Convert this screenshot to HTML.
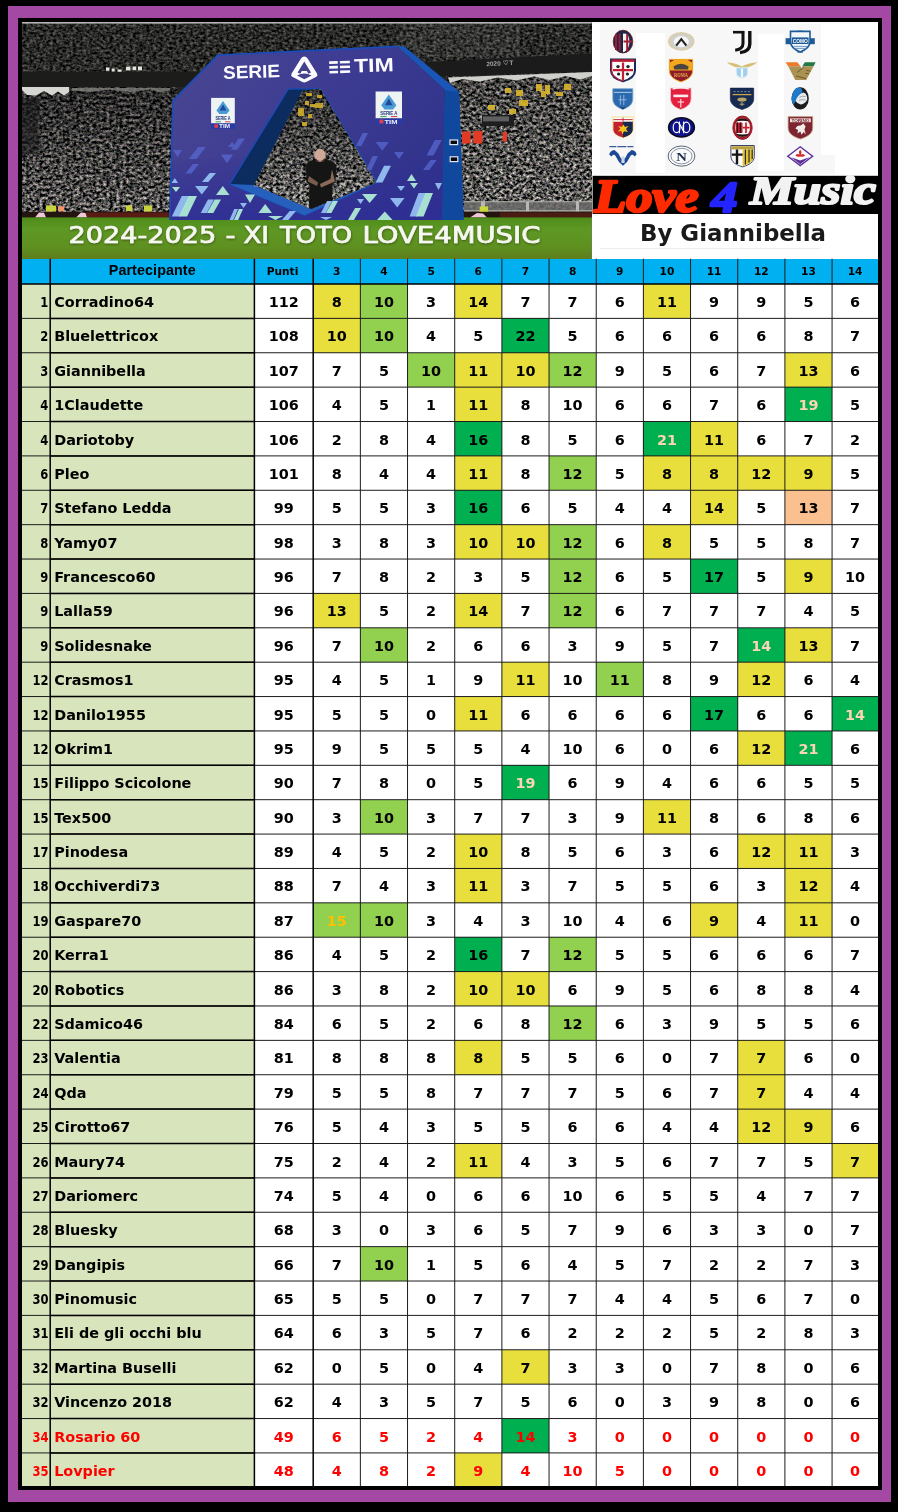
<!DOCTYPE html>
<html lang="it">
<head>
<meta charset="utf-8">
<title>2024-2025 - XI TOTO LOVE4MUSIC</title>
<style>
html,body{margin:0;padding:0;background:#000;}
body{width:898px;height:1512px;overflow:hidden;}
#page{position:relative;width:898px;height:1512px;background:#000;overflow:hidden;font-family:"DejaVu Sans","Liberation Sans",sans-serif;}
#frame1{position:absolute;left:8px;top:6px;width:883px;height:1496px;background:#A349A4;}
#frame2{position:absolute;left:18px;top:18px;width:864px;height:1472px;background:#000;}
#content{position:absolute;left:22px;top:22px;width:856px;height:1464px;background:#fff;}
#tbl{position:absolute;left:0;top:0;width:898px;height:1512px;}
.hrow,.row{position:absolute;left:0;width:898px;}
.hrow{background:transparent;}
.hc{position:absolute;top:0;height:100%;background:#00B0F0;color:#000;font-weight:bold;font-family:"DejaVu Sans","Liberation Sans",sans-serif;font-size:10.6px;text-align:center;line-height:25px;white-space:nowrap;}
.hc.hp{font-family:"Liberation Sans",sans-serif;font-size:14.3px;letter-spacing:0.1px;line-height:23px;}
.c{position:absolute;top:0;height:100%;background:#fff;color:#000;font-weight:bold;font-size:14.4px;text-align:center;line-height:36px;white-space:nowrap;}
.c.rk,.c.nm{background:#D8E4BC;}
.c.rk{text-align:right;font-family:"DejaVu Sans Condensed","DejaVu Sans",sans-serif;font-size:14.6px;}
.c.rk span{display:inline-block;padding-right:1.8px;transform:scaleX(0.88);transform-origin:100% 50%;}
.c.nm{text-align:left;}
.c.nm span{padding-left:4px;}
.red .c{color:#FF0000;}
.hc.hq{text-indent:-2.5px;}

</style>
</head>
<body>
<div id="page">
<div id="frame1"></div>
<div id="frame2"></div>
<div id="content"></div>

<svg id="hdr" width="898" height="262" viewBox="0 0 898 262" style="position:absolute;left:0;top:0">
<defs>
<filter id="crowdA" x="0" y="0" width="100%" height="100%" color-interpolation-filters="sRGB">
<feTurbulence type="fractalNoise" baseFrequency="0.3 0.36" numOctaves="3" seed="7" result="n"/>
<feColorMatrix in="n" type="matrix" values="2.10 0 0 0 -0.670  1.91 0.17 0 0 -0.663  1.89 0 0.16 0 -0.657  0 0 0 0 1"/>
<feGaussianBlur stdDeviation="0.6"/>
</filter>
<filter id="crowdB" x="0" y="0" width="100%" height="100%" color-interpolation-filters="sRGB">
<feTurbulence type="fractalNoise" baseFrequency="0.3 0.4" numOctaves="3" seed="3" result="n"/>
<feColorMatrix in="n" type="matrix" values="0.70 0 0 0 -0.185  0.64 0.06 0 0 -0.183  0.62 0 0.05 0 -0.178  0 0 0 0 1"/>
<feGaussianBlur stdDeviation="0.6"/>
</filter>
<filter id="crowdC" x="0" y="0" width="100%" height="100%" color-interpolation-filters="sRGB">
<feTurbulence type="fractalNoise" baseFrequency="0.3 0.36" numOctaves="3" seed="11" result="n"/>
<feColorMatrix in="n" type="matrix" values="1.90 0 0 0 -0.600  1.73 0.15 0 0 -0.594  1.71 0 0.15 0 -0.588  0 0 0 0 1"/>
<feGaussianBlur stdDeviation="0.6"/>
</filter>
<filter id="grassN" x="0" y="0" width="100%" height="100%" color-interpolation-filters="sRGB">
<feTurbulence type="fractalNoise" baseFrequency="0.08 0.5" numOctaves="2" seed="5" result="n"/>
<feColorMatrix in="n" type="matrix" values="0 0 0 0 0.1  0 0 0 0 0.25  0 0 0 0 0  0 1.2 0 0 -0.45"/>
</filter>
<linearGradient id="shL" x1="0" y1="0" x2="0" y2="1">
<stop offset="0" stop-color="#000" stop-opacity="0.55"/><stop offset="0.5" stop-color="#000" stop-opacity="0.3"/><stop offset="1" stop-color="#000" stop-opacity="0.1"/>
</linearGradient>
<linearGradient id="shR" x1="0" y1="0" x2="0" y2="1">
<stop offset="0" stop-color="#000" stop-opacity="0.35"/><stop offset="0.4" stop-color="#000" stop-opacity="0.2"/><stop offset="1" stop-color="#000" stop-opacity="0.05"/>
</linearGradient>
<linearGradient id="lowL" x1="0" y1="0" x2="0" y2="1">
<stop offset="0" stop-color="#262422"/><stop offset="0.5" stop-color="#36322f"/><stop offset="1" stop-color="#4a4644"/>
</linearGradient>
<linearGradient id="lowR" x1="0" y1="0" x2="0" y2="1">
<stop offset="0" stop-color="#3a3833"/><stop offset="0.5" stop-color="#403c3a"/><stop offset="1" stop-color="#4c4848"/>
</linearGradient>
<linearGradient id="grass" x1="0" y1="0" x2="0" y2="1">
<stop offset="0" stop-color="#4e8c1a"/><stop offset="0.3" stop-color="#5e9824"/><stop offset="0.7" stop-color="#5e9020"/><stop offset="1" stop-color="#5e7c1c"/>
</linearGradient>
<filter id="crowdH" x="0" y="0" width="100%" height="100%" color-interpolation-filters="sRGB">
<feTurbulence type="fractalNoise" baseFrequency="0.3 0.36" numOctaves="3" seed="21" result="n"/>
<feColorMatrix in="n" type="matrix" values="2.40 0 0 0 -0.740  2.19 0.19 0 0 -0.733  2.16 0 0.19 0 -0.725  0 0 0 0 1"/>
<feGaussianBlur stdDeviation="0.6"/>
</filter>
<filter id="ts" x="-5%" y="-30%" width="110%" height="170%">
<feDropShadow dx="0.4" dy="1" stdDeviation="1.1" flood-color="#1a2a00" flood-opacity="0.55"/>
</filter>
<linearGradient id="archLow" x1="0" y1="0" x2="0" y2="1">
<stop offset="0" stop-color="#2e2e92" stop-opacity="0"/><stop offset="1" stop-color="#2e2e96" stop-opacity="0.85"/>
</linearGradient>
<linearGradient id="shH" x1="0" y1="0" x2="0" y2="1">
<stop offset="0" stop-color="#000" stop-opacity="0.62"/><stop offset="0.5" stop-color="#000" stop-opacity="0.4"/><stop offset="1" stop-color="#000" stop-opacity="0.12"/>
</linearGradient>
<linearGradient id="arch" gradientUnits="userSpaceOnUse" x1="200" y1="50" x2="420" y2="220">
<stop offset="0" stop-color="#484592"/><stop offset="0.45" stop-color="#3d3c92"/><stop offset="1" stop-color="#2f318a"/>
</linearGradient>
<clipPath id="photo"><rect x="22" y="22" width="570" height="237"/></clipPath>
<clipPath id="hole"><polygon points="302.5,91 320.2,88.8 376.4,182.4 311,209 254,185"/></clipPath>
</defs>
<g clip-path="url(#photo)">
<rect x="21.6" y="22" width="570" height="237" fill="#262523"/>
<!-- upper stand -->
<rect x="21.6" y="23" width="570" height="52" filter="url(#crowdB)"/>
<rect x="400" y="23" width="120" height="34" fill="#fff" opacity="0.05"/>
<!-- balcony band left -->
<rect x="21.6" y="71.5" width="200" height="15.5" fill="#1c1c1b"/>
<path d="M106 67.4h3.4v3.4H106zM111.6 68.6h3v3h-3zM117.6 69.4h4v2.4h-4zM126 66.8h4.4v3.6H126zM132.6 66.6h3.6v3.6h-3.6zM138 66.4h4v3.8h-4z" fill="#e4e4de"/>
<!-- lower stand left -->
<rect x="21.6" y="87" width="155" height="126" filter="url(#crowdC)"/>
<rect x="21.6" y="87" width="155" height="126" fill="url(#shL)"/>
<rect x="21.6" y="98" width="17" height="56" fill="#1a1a1a" opacity="0.6"/>
<path d="M22 87H69V92L64 95.4L58 91.4L52 95.4L44 91L36 95.6L27 95L22 90Z" fill="#d6d6d2"/>
<path d="M72 88H170V90.4L160 92L150 89.6L130 92L110 89.8L90 92L72 90Z" fill="#8e8e8a" opacity="0.7"/>
<!-- right side -->
<polygon points="425,62 592,53.6 592,71.6 440,76.4 425,74" fill="#1b1b1c"/>
<text x="486.4" y="66.2" font-family="'Liberation Sans',sans-serif" font-weight="bold" font-size="6.4" fill="#a6a6a6" textLength="27" lengthAdjust="spacingAndGlyphs" transform="rotate(-2.6 486 66)">2020 ♡ T</text>
<rect x="446" y="76" width="146" height="136" filter="url(#crowdA)"/>
<rect x="446" y="76" width="146" height="136" fill="url(#shR)"/>
<path d="M448 77.4L592 72V76L580 79.6L566 76L550 80L534 76.6L516 80.4L498 77.4L480 81.4L462 79L450 83Z" fill="#cfcfcc"/>
<g fill="#d9b52a" opacity="0.9">
<path d="M536 84h6v7h-6zM545 85h5v9h-5zM564 84h7v6h-7zM556 92h7v4h-7zM516 90h7v6h-7zM505 88h6v5h-6zM519 100h9v6h-9zM541 91h5v6h-5zM488 105h7v5h-7zM509 109h7v5h-7z"/>
</g>
<rect x="482" y="115" width="32" height="11" fill="#1e1e20"/>
<rect x="483" y="116.4" width="26" height="5" fill="#7a7a7a" opacity="0.7"/>
<path d="M462 131.4h8.6v12H462zM473.4 131h9v12.6h-9zM502.6 132h4.4v9.6h-4.4z" fill="#e23a24"/>
<rect x="464" y="201.6" width="128" height="10.4" fill="#6a6a68" opacity="0.85"/>
<path d="M464 201.8H592M464 210.8H592" stroke="#b4b4b0" stroke-width="1.1"/>
<path d="M481 201.6h4v10h-4zM526 201.6h3v10h-3zM576 201.6h3v10h-3z" fill="#b8b8b4"/>
<rect x="479.6" y="206.4" width="8.6" height="6.6" fill="#c8d83a"/>
<!-- ad boards -->
<rect x="21.6" y="211.8" width="570" height="6" fill="#241410"/>
<rect x="86" y="212.4" width="84" height="5" fill="#5a1c12"/>
<rect x="500" y="212.4" width="92" height="5" fill="#4a1c12"/>
<path d="M46 205.6h10v6H46zM126 205.4h6v5.6h-6zM144 205.6h8v6h-8z" fill="#c8d23c"/>
<path d="M58 206.4h6v5h-6z" fill="#f0966a"/>
<path d="M35 217.6L39 212.4L44 212.8L46 217.6ZM76 217.6L81 212.6L85.4 213L87 217.6ZM470 217.6L477 213L483 213.6L487 217.6Z" fill="#f0c8dc"/>
<!-- grass -->
<rect x="21.6" y="217.4" width="570" height="42" fill="url(#grass)"/>
<!-- arch -->
<polygon points="397.5,46.4 403.7,46 459,91.5 463.7,220 441,220 444.7,89.7" fill="#1a55b8"/>
<polygon points="444.7,90.6 459,91.5 463.7,220 442,220" fill="#10489e"/>
<polygon points="169.7,220 172.8,100.6 217.9,55.1 397.5,46.4 444.7,89.7 442,220" fill="url(#arch)"/>
<polygon points="169.7,220 170.5,160 443.5,150 442,220" fill="url(#archLow)"/>
<polyline points="169.9,220 172.8,100.6 217.9,55.1 397.5,46.4" fill="none" stroke="#1a4cb8" stroke-width="1.6"/>
<!-- hole -->
<polygon points="288.3,89 320.6,88.6 377,182.4 304.5,215.3 229.8,184" fill="#0c2c60" stroke="#1a4ab4" stroke-width="1.4"/>
<polygon points="229.8,184 254,185 311,209 377,182.4 304.5,215.3" fill="#2560bc"/><path d="M254 185.6L262 186.4L311 208.4" stroke="#cfe0f6" stroke-width="1.2" fill="none" opacity="0.7"/>
<polygon points="302.5,91 320.2,88.8 376.4,182.4 311,209 254,185" fill="#4a4846"/>
<g clip-path="url(#hole)">
<rect x="250" y="86" width="130" height="126" filter="url(#crowdH)"/>
<rect x="250" y="86" width="130" height="126" fill="url(#shH)"/>
<path d="M306 93h6v3h-6zM317 95h5v3h-5zM305 101h4v4h-4zM310 104h6v3h-6zM315 103h8v5h-8zM298 108h6v8h-6zM308 114h4v4h-4zM302 122h5v4h-5z" fill="#d8b428" opacity="0.85"/>
<path d="M306 167Q306.6 160.8 313 160L327 160Q335.6 160.8 336.6 167L335.4 183L332.4 184L331.6 209.6H309L309.4 185L306.4 182Z" fill="#151515"/>
<path d="M332 169.6L335 181.6L321 187.4L320 184L330.4 179Z" fill="#8a6a58"/>
<path d="M309 176L318 182.6L317 186L307.6 181.4Z" fill="#7a5c4c"/>
<ellipse cx="320" cy="155.4" rx="5.6" ry="6.6" fill="#cfa898"/>
<path d="M315.6 158Q320 164.6 324.8 157.8L324 161.4H316.2Z" fill="#4a3a34"/>
</g>
<!-- triangles -->
<g fill="#94c0f2" opacity="0.95">
<polygon points="171.8,216.6 181.8,196 190,196 180,216.6"/>
<polygon points="200.7,213 208,199.6 214,199.6 206.7,213"/>
<polygon points="195,186 208.5,186 201.8,194.5"/>
<polygon points="171.5,183 174.8,178 178,183"/>
<polygon points="202,182 209.7,173 216,173 208.3,182"/>
<polygon points="229.5,220 234.2,209 238,209 233.3,220"/>
<polygon points="240,203 247,203 243.5,208"/>
<polygon points="282,220 289.7,211 296,211 288.3,220"/>
<polygon points="321,213 327.1,201 332,201 325.9,213"/>
<polygon points="390,198 404.5,198 397.2,207.4"/>
<polygon points="409.6,216.6 418.6,193 426,193 417,216.6"/>
<polygon points="375.6,182.6 384.1,165.7 391,165.7 382.5,182.6"/>
<polygon points="357,199 364,199 360.5,204"/>
<polygon points="397,186 405,186 401,191"/>
<polygon points="435,183 442,183 438.5,190"/>
<polygon points="320,217 332,217 326,220"/>
</g>
<g fill="#aeead4" opacity="0.95">
<polygon points="179,216.6 188.9,196 197,196 187.1,216.6"/>
<polygon points="207,213 214.7,199.6 221,199.6 213.3,213"/>
<polygon points="216,195 222.8,186 229.5,195"/>
<polygon points="172,187 180,187 176,192"/>
<polygon points="245,194.5 255,194.5 250,203"/>
<polygon points="258.4,213 265.2,204 272,213"/>
<polygon points="234,220 238.9,209 243,209 238.1,220"/>
<polygon points="268,216 283,216 275.5,220"/>
<polygon points="362,194 377.3,194 369.6,203"/>
<polygon points="326,213 332.6,201 338,201 331.4,213"/>
<polygon points="348,220 355.1,208 361,208 353.9,220"/>
<polygon points="416,216.6 425.4,193 433,193 423.6,216.6"/>
<polygon points="377,220 384.8,211.5 392.6,220"/>
<polygon points="407,181 411.5,174 416,181"/>
<polygon points="410,183 418,183 414,188.6"/>
</g>
<g fill="#5868d0" opacity="0.75">
<polygon points="375.6,142 389,142 382.3,150.4"/>
<polygon points="423,170 430.5,160 436.7,160 429.2,170"/>
<polygon points="426.5,155.5 434.9,140 441.8,140 433.4,155.5"/>
<polygon points="188.8,159 198.2,147 205.8,147 196.5,159"/>
<polygon points="185.4,173.5 192.9,164 199,164 191.5,173.5"/>
<polygon points="221,154.5 233,154.5 227,163.3"/>
<polygon points="231,149.7 238.6,138.5 244.8,138.5 237.2,149.7"/>
<polygon points="228,147 232,142 236,147"/>
<polygon points="173,150 182,150 177.5,157"/>
<polygon points="356,146 362.6,133 368,133 361.4,146"/>
<polygon points="394,152 404,152 399,159"/>
<polygon points="366,170 372.6,156 378,156 371.4,170"/>
</g>
<!-- badges -->
<rect x="211.1" y="97.9" width="23.7" height="25.6" fill="#eef3f4"/>
<rect x="211.1" y="123.4" width="23.7" height="5.3" fill="#2a3aa6"/>
<path d="M223 101L229.6 110.4L226.6 114H219.4L216.4 110.4Z" fill="#4a9ad4"/>
<path d="M223 104.6L226.4 110.4H219.6Z" fill="#1f4a9c"/>
<text x="223" y="120.2" font-family="'Liberation Sans',sans-serif" font-weight="bold" font-size="4.6" fill="#26357a" text-anchor="middle" textLength="15" lengthAdjust="spacingAndGlyphs">SERIE A</text>
<path d="M215.6 121.8H221" stroke="#3a9a4a" stroke-width="0.9"/><path d="M225 121.8H230.4" stroke="#d43a3a" stroke-width="0.9"/>
<text x="224.6" y="128" font-family="'Liberation Sans',sans-serif" font-weight="bold" font-size="5" fill="#f0f0f6" text-anchor="middle" textLength="11" lengthAdjust="spacingAndGlyphs">TIM</text>
<rect x="214.4" y="124.4" width="3.6" height="3.4" fill="#e0404a"/>
<rect x="375.6" y="91.5" width="26.4" height="27" fill="#eef3f4"/>
<rect x="375.6" y="118.4" width="26.4" height="6" fill="#2a3aa6"/>
<path d="M388.8 94.6L396.4 105.2L393 109.4H384.6L381.2 105.2Z" fill="#4a9ad4"/>
<path d="M388.8 98.6L392.6 105.2H385Z" fill="#1f4a9c"/>
<text x="388.8" y="114.6" font-family="'Liberation Sans',sans-serif" font-weight="bold" font-size="5" fill="#26357a" text-anchor="middle" textLength="17" lengthAdjust="spacingAndGlyphs">SERIE A</text>
<path d="M380.4 116.6H386.6" stroke="#3a9a4a" stroke-width="1"/><path d="M391 116.6H397.2" stroke="#d43a3a" stroke-width="1"/>
<text x="391" y="123.6" font-family="'Liberation Sans',sans-serif" font-weight="bold" font-size="5.6" fill="#f0f0f6" text-anchor="middle" textLength="13" lengthAdjust="spacingAndGlyphs">TIM</text>
<rect x="379.4" y="119.6" width="4" height="3.8" fill="#e0404a"/>
<!-- side details -->
<rect x="450" y="140" width="7.6" height="4.6" fill="#0a0a14" stroke="#dfe4ee" stroke-width="1.2"/>
<rect x="450.2" y="156.8" width="7.6" height="4.8" fill="#0a0a14" stroke="#dfe4ee" stroke-width="1.2"/>
<!-- serie a tim -->
<g fill="#fbfbfd" font-family="'Liberation Sans',sans-serif" font-weight="bold">
<text x="223.3" y="78.9" font-size="18.2" textLength="57" lengthAdjust="spacingAndGlyphs" transform="rotate(-1.8 223.3 78.9)">SERIE</text>
<path d="M304.3 56.6Q306.4 56.6 307.6 58.6L317 73.4Q318.2 75.6 316.4 76.8L306.2 82Q304.3 82.8 302.4 82L292.2 76.8Q290.4 75.6 291.6 73.4L301 58.6Q302.2 56.6 304.3 56.6Z"/>
<path d="M304.3 61.6L311 72.4L308.4 73.8L306.8 71H301.8L300.2 73.8L297.6 72.4Z" fill="#44418a"/>
<path d="M297 75.4Q304.3 71.6 311.6 75.4L304.3 79.2Z" fill="#44418a"/>
<text x="354.2" y="72.4" font-size="19.2" textLength="39.8" lengthAdjust="spacingAndGlyphs" transform="rotate(-1.8 354.2 72.4)">TIM</text>
<g transform="rotate(-1.8 339 67)">
<rect x="329.3" y="61" width="8.6" height="2.6"/><rect x="340" y="61" width="10" height="2.6"/>
<rect x="329.3" y="65.8" width="8.6" height="2.6"/><rect x="340" y="65.8" width="10" height="2.6"/>
<rect x="329.3" y="70.6" width="8.6" height="2.6"/><rect x="340" y="70.6" width="10" height="2.6"/>
</g>
</g>
<!-- title -->
<g font-family="'DejaVu Sans','Liberation Sans',sans-serif" font-size="22.9" fill="#f6f7f0" stroke="#f6f7f0" stroke-width="0.7" filter="url(#ts)" lengthAdjust="spacingAndGlyphs">
<text x="68.6" y="243.4" textLength="147.6" lengthAdjust="spacingAndGlyphs">2024-2025</text>
<text x="225.6" y="243.4" textLength="10" lengthAdjust="spacingAndGlyphs">-</text>
<text x="243.4" y="243.4" textLength="25.6" lengthAdjust="spacingAndGlyphs">XI</text>
<text x="280" y="243.4" textLength="72" lengthAdjust="spacingAndGlyphs">TOTO</text>
<text x="362.4" y="243.4" textLength="178" lengthAdjust="spacingAndGlyphs">LOVE4MUSIC</text>
</g>
<rect x="21.6" y="22" width="570" height="1.6" fill="#b4b4b4"/>
</g>
<!-- right panel -->
<rect x="592" y="22" width="286" height="237" fill="#ffffff"/>
<rect x="600" y="24" width="221" height="150" fill="#f7f7f7"/><rect x="821" y="155" width="14" height="19" fill="#f7f7f7"/>
<g id="logos">
<rect x="636" y="33" width="29" height="140" fill="#fff"/>
<rect x="758" y="34" width="26" height="137" fill="#fff"/>
<g><ellipse cx="623" cy="41.6" rx="9.8" ry="11.4" fill="#1b2748"/><path d="M623 31.5A9.8 11.4 0 0 1 623 53Z" fill="#f4f4f4" transform="translate(0 -0.6)"/><path d="M616 34V50M619.6 32.5V51" stroke="#a01c30" stroke-width="2" fill="none"/><path d="M627.2 33V51M623.5 41.5H632" stroke="#a01c30" stroke-width="2" fill="none"/><path d="M615.5 34.5Q623 27 630.5 34.5Q623 32.5 615.5 34.5Z" fill="#1b2748"/><ellipse cx="623" cy="41.6" rx="9.8" ry="11.4" fill="none" stroke="#6b1a2c" stroke-width="0.8"/></g>
<g><ellipse cx="681.3" cy="41.4" rx="13.2" ry="9.4" fill="#d9cfae"/><ellipse cx="681.3" cy="41.4" rx="10.6" ry="7.4" fill="#cfcfcf"/><ellipse cx="681.3" cy="41.6" rx="7.6" ry="5.6" fill="#f6f6f6"/><path d="M676.2 45.6L681.3 39.2L686.4 45.6" stroke="#222" stroke-width="2.1" fill="none"/></g>
<g fill="none" stroke="#111" stroke-linecap="butt"><path d="M733 32.2H744.2" stroke-width="2.6"/><path d="M743 31V43.5Q743 49 735.2 50.2" stroke-width="3"/><path d="M749.8 31V44Q749.8 51.5 740 52.6" stroke-width="3.4"/></g>
<g><path d="M785.6 38.2H814.8V44.2H785.6Z" fill="#1d5b98"/><path d="M797.4 30.6H803V52.6H797.4Z" fill="#1d5b98"/><path d="M790.5 31.4H810V41.6C810 47.3 805.1 50.2 800.2 51.9C795.3 50.2 790.5 47.3 790.5 41.6Z" fill="#f2f6fa" stroke="#1d5b98" stroke-width="1.6"/><rect x="791.8" y="37.4" width="16.8" height="6.6" fill="#1d5b98"/><text x="800.2" y="43" font-family="'Liberation Sans',sans-serif" font-weight="bold" font-size="6" fill="#fff" text-anchor="middle" textLength="15" lengthAdjust="spacingAndGlyphs">COMO</text><path d="M793.5 46.4H807M794.6 48.4H806" stroke="#5d8fc0" stroke-width="0.9"/></g>
<g><path d="M611 59.4H635V70.4C635 76.6 629 79.6 623 81.4C617 79.6 611 76.6 611 70.4Z" fill="#fbfbfb" stroke="#1a2a5a" stroke-width="2"/><path d="M611.4 60.6H634.6" stroke="#b81e34" stroke-width="2.6"/><path d="M623 62.5V80M613 70.2H633" stroke="#c01f36" stroke-width="2.2" fill="none"/><circle cx="618" cy="66.6" r="1.7" fill="#222"/><circle cx="628" cy="66.6" r="1.7" fill="#222"/><circle cx="618.6" cy="74" r="1.6" fill="#222"/><circle cx="627.4" cy="74" r="1.6" fill="#222"/><path d="M611.6 62V71Q612 77.5 623 81.4" stroke="#b81e34" stroke-width="1.3" fill="none"/></g>
<g><path d="M669.4 59.4H692.6V70.6C692.6 76.9 686.8 80 681 81.8C675.2 80 669.4 76.9 669.4 70.6Z" fill="#8d1b2a" stroke="#f1a51c" stroke-width="1"/><path d="M669.8 62.6Q675 58.4 681 59.4Q687 58.4 692.2 62.6V70.4H669.8Z" fill="#f2a81d"/><path d="M673.4 66.4Q681 61.2 688.6 66.4L688 69.4H674.4Z" fill="#4a4440"/><text x="681" y="76.6" font-family="'Liberation Serif',serif" font-weight="bold" font-size="5.6" fill="#e6b04a" text-anchor="middle" textLength="14" lengthAdjust="spacingAndGlyphs">ROMA</text></g>
<g><path d="M726.8 62.2Q735 62.6 741.8 66.4Q749 62.6 757.4 62.2Q752.5 66.4 745.4 67.8L742 69.4L738.6 67.8Q731.5 66.4 726.8 62.2Z" fill="#d8bf78"/><path d="M736.2 67.8H747.8V73C747.8 75.9 744.9 77.4 742 78.2C739.1 77.4 736.2 75.9 736.2 73Z" fill="#9fd0ee" stroke="#e8eef2" stroke-width="1"/><path d="M742 68.6V77.4" stroke="#f4f8fa" stroke-width="2.2"/></g>
<g><path d="M785.6 62.2H797.4L800.4 66.2H788.2Z" fill="#ee7a28"/><path d="M804.8 62.2H815.6L813.6 66.2H802.4Z" fill="#1f7a46"/><path d="M788.2 66.2H800.4L802.2 69L802.4 66.2H813.6L806.2 80H795.2Z" fill="#ab9152"/><path d="M797 72.6L803.6 67.4M796 76L806 78.6M806.4 70.4L810.4 71.2M805.4 73.2L809 74" stroke="#5c4a26" stroke-width="0.8" fill="none"/></g>
<g><path d="M612.8 88.7H632.8V99C632.8 104.8 627.8 107.7 622.8 109.3C617.8 107.7 612.8 104.8 612.8 99Z" fill="#2c69ad" stroke="#7ba7d4" stroke-width="0.8"/><path d="M614 92.4H631.6" stroke="#9cc0e2" stroke-width="1.2"/><path d="M620.4 95.4V104.6M623.8 95V105M618.4 99.8H626.6" stroke="#8fb6de" stroke-width="1" fill="none"/><path d="M615 104Q622.8 111 630.6 104L622.8 109.4Z" fill="#1d3e6e"/></g>
<g><path d="M670.5 88.1H691.1V98.8C691.1 104.8 685.9 107.8 680.8 109.5C675.6 107.8 670.5 104.8 670.5 98.8Z" fill="#e3213f" stroke="#f6c9d0" stroke-width="0.8"/><path d="M672.6 89.2Q680.8 86.6 689 89.2" stroke="#f4f4f4" stroke-width="1.4" fill="none"/><rect x="673.4" y="94.6" width="14.8" height="2.6" fill="#fbe9ec"/><path d="M680.8 99V107.4M677.6 102H684" stroke="#fbe9ec" stroke-width="1.1"/></g>
<g><path d="M730.3 88.1H753.7V98.8C753.7 104.8 747.9 107.8 742 109.5C736.1 107.8 730.3 104.8 730.3 98.8Z" fill="#172a52" stroke="#0f1c3c" stroke-width="0.6"/><path d="M732.6 94.6H751.4" stroke="#c9a24a" stroke-width="1.3"/><path d="M733.4 91.6H750.6" stroke="#7d8db0" stroke-width="0.9" stroke-dasharray="2.2 1.4"/><ellipse cx="742" cy="99.6" rx="4.6" ry="2" fill="#b8a468"/><path d="M742 101.6V106M739.6 104.2H744.4" stroke="#b8a468" stroke-width="1"/></g>
<g><ellipse cx="800.2" cy="98.4" rx="8.6" ry="11.2" fill="#1c1c1e"/><path d="M800.2 87.2A8.6 11.2 0 0 0 793.4 105.2Q797 98 801.4 94.6Q804 90.4 800.2 87.2Z" fill="#1e78c8"/><path d="M795.6 101Q797.4 94.4 803.4 92.4Q807.6 94 807.2 99.4Q805.6 103.6 800.6 104.4Q797.4 104 795.6 101Z" fill="#e8eaec"/><path d="M799.4 97.4Q802.4 95.4 805.6 96.6M799 100.4Q802.4 99 805.6 100" stroke="#8a8e94" stroke-width="0.8" fill="none"/></g>
<g><path d="M611.9 116.3H634.1V127.4C634.1 133.6 628.5 136.7 623 138.5C617.5 136.7 611.9 133.6 611.9 127.4Z" fill="#f5e8a8"/><path d="M613.4 121.6H632.6V130Q632.6 134.6 623 137.6Q613.4 134.6 613.4 130Z" fill="#c3202f"/><path d="M623 121.6H632.6V130Q632.6 134.6 623 137.6Z" fill="#16294f"/><rect x="613.4" y="117.6" width="19.2" height="4" fill="#fafafa"/><path d="M613.4 119.6H632.6M623 117.6V121.6" stroke="#c3202f" stroke-width="0.9"/><path d="M618.2 126L621.6 127L623.6 124.4L625 127L628.6 126L626 129L628 132L624 131.2L622.4 134.4L621.4 131L617.6 131.4L620.4 128.8Z" fill="#f3c41d"/></g>
<g><ellipse cx="681.5" cy="127.4" rx="13.6" ry="10.3" fill="#0a0a22"/><ellipse cx="681.5" cy="127.4" rx="11.8" ry="8.8" fill="#10148c"/><ellipse cx="676.6" cy="127.4" rx="3.4" ry="5.2" fill="none" stroke="#fff" stroke-width="1.2"/><ellipse cx="686.4" cy="127.4" rx="3.4" ry="5.2" fill="none" stroke="#fff" stroke-width="1.2"/><path d="M679.4 121.6V133.2M683.6 121.6V133.2M679.4 123.4L683.6 131.4" stroke="#fff" stroke-width="1.1" fill="none"/></g>
<g><ellipse cx="742.5" cy="127.7" rx="9.7" ry="11.7" fill="#a81c28"/><ellipse cx="742.5" cy="127.7" rx="7.6" ry="9.4" fill="#f6f6f6"/><path d="M735.6 122.6H742.5V133H735.6Z" fill="#c41e2c"/><path d="M737.4 122.6V133M740.4 122.6V133" stroke="#161616" stroke-width="1.2"/><path d="M746 122.6V133M742.5 127.6H749.6" stroke="#c41e2c" stroke-width="1.7"/><path d="M735.4 121.6Q742.5 115 749.6 121.6Q742.5 120 735.4 121.6ZM735.4 133.8Q742.5 140.4 749.6 133.8Q742.5 135.4 735.4 133.8Z" fill="#201414"/><ellipse cx="742.5" cy="127.7" rx="9.7" ry="11.7" fill="none" stroke="#8e1822" stroke-width="0.9"/></g>
<g><path d="M788.1 116.6H812.7V127.8C812.7 134.1 806.5 137.2 800.4 139C794.2 137.2 788.1 134.1 788.1 127.8Z" fill="#7d2530" stroke="#c9a58c" stroke-width="0.8"/><rect x="790" y="118.4" width="20.8" height="3.8" fill="#efe6e2"/><text x="800.4" y="121.6" font-family="'Liberation Sans',sans-serif" font-weight="bold" font-size="3.8" fill="#7d2530" text-anchor="middle" textLength="18" lengthAdjust="spacingAndGlyphs">TORINO</text><path d="M795.4 128.4Q797 125 800.6 125.6L803.4 123.6L805.6 126.4L804.4 129.6L805.8 134.4L803.6 132L801.6 134.8L800.4 131.4L797.4 133.6L798 130Z" fill="#f1ece8"/></g>
<g><path d="M609.4 146.6H635.8" stroke="#3a5a9a" stroke-width="1.2" stroke-dasharray="7 1 9 1 6"/><path d="M609.2 154.6Q610 150.6 614.4 150L618.4 153.4L621 158.4H625L627.6 153.4L631.6 150Q636 150.6 636.6 154.6L634.6 156.4Q632.6 153.6 630.6 155.8L627 162L623 165.8L619 162L615.4 155.8Q613.4 153.6 611.4 156.4Z" fill="#1c4896"/><path d="M621.4 156.4H624.6V163H621.4Z" fill="#cdd7ea"/></g>
<g><ellipse cx="681.5" cy="156.1" rx="13.4" ry="10.1" fill="#f9fafb" stroke="#4a5466" stroke-width="0.9"/><ellipse cx="681.5" cy="156.1" rx="10.6" ry="7.8" fill="none" stroke="#5a6478" stroke-width="0.7"/><text x="681.5" y="160.6" font-family="'Liberation Serif',serif" font-weight="bold" font-size="12.4" fill="#1d2e50" text-anchor="middle" textLength="10.6" lengthAdjust="spacingAndGlyphs">N</text></g>
<g><path d="M730.9 145.5H754.3V156.2C754.3 162.2 748.5 165.2 742.6 166.9C736.8 165.2 730.9 162.2 730.9 156.2Z" fill="#fafafa" stroke="#3a4470" stroke-width="1"/><path d="M731.4 146.2H753.8V149.4H731.4Z" fill="#b8a03c"/><path d="M742.6 149.4H753.4V158Q752.6 163 742.6 166.4Z" fill="#e2c432"/><path d="M745.4 149.4V164.6M749 149.4V162.4M752.2 149.4V159" stroke="#2a2a38" stroke-width="1.2"/><path d="M737 149.4V164M731.8 154.6H742.6" stroke="#151515" stroke-width="2.4"/></g>
<g><path d="M800.2 146.8L812.6 156.2L800.2 165.6L787.8 156.2Z" fill="#fbfbfd" stroke="#5a2f96" stroke-width="1.4"/><path d="M791 157.2L800.2 160.4L809.4 157.2L800.2 164.2Z" fill="#5a2f96"/><path d="M800.2 149.6Q802.4 152 801 154.4Q804 153 805 155.4Q803 157.2 800.2 156.4Q797.4 157.2 795.4 155.4Q796.4 153 799.4 154.4Q798 152 800.2 149.6Z" fill="#d42a2a"/></g>
</g>
<rect x="592.6" y="175.8" width="285.4" height="38.2" fill="#000"/>
<g font-family="'Liberation Serif',serif" font-weight="bold" font-style="italic">
<text x="594.6" y="211.8" font-size="45.5" fill="#ff2a00" stroke="#ff2a00" stroke-width="2.6" stroke-linejoin="round" textLength="104" lengthAdjust="spacingAndGlyphs">Love</text>
<text x="711.6" y="211.6" font-size="44" fill="#2424ff" stroke="#2424ff" stroke-width="2.4" stroke-linejoin="round" textLength="26" lengthAdjust="spacingAndGlyphs">4</text>
<text x="750" y="204" font-size="40" fill="#f2f2f2" stroke="#f2f2f2" stroke-width="2.2" stroke-linejoin="round" textLength="126" lengthAdjust="spacingAndGlyphs">Music</text>
</g>
<text x="640" y="241.3" font-family="'DejaVu Sans','Liberation Sans',sans-serif" font-weight="bold" font-size="22.7" fill="#1a1a1a" textLength="186" lengthAdjust="spacingAndGlyphs">By Giannibella</text>
<rect x="600" y="248" width="220" height="1" fill="#ececec"/>
</svg>

<div id="tbl">
<div class="hrow" style="top:258.7px;height:25.3px">
<div class="hc" style="left:22px;width:28.2px"></div>
<div class="hc hp" style="left:50.2px;width:204.2px">Partecipante</div>
<div class="hc hq" style="left:254.4px;width:58.8px">Punti</div>
<div class="hc" style="left:313.2px;width:47.17px">3</div>
<div class="hc" style="left:360.37px;width:47.17px">4</div>
<div class="hc" style="left:407.54px;width:47.17px">5</div>
<div class="hc" style="left:454.71px;width:47.17px">6</div>
<div class="hc" style="left:501.88px;width:47.17px">7</div>
<div class="hc" style="left:549.05px;width:47.17px">8</div>
<div class="hc" style="left:596.22px;width:47.17px">9</div>
<div class="hc" style="left:643.39px;width:47.17px">10</div>
<div class="hc" style="left:690.56px;width:47.17px">11</div>
<div class="hc" style="left:737.73px;width:47.17px">12</div>
<div class="hc" style="left:784.9px;width:47.17px">13</div>
<div class="hc" style="left:832.07px;width:45.93px">14</div>
</div>
<div class="row" style="top:284px;height:34.38px">
<div class="c rk" style="left:22px;width:28.2px"><span>1</span></div>
<div class="c nm" style="left:50.2px;width:204.2px"><span>Corradino64</span></div>
<div class="c pt" style="left:254.4px;width:58.8px"><span>112</span></div>
<div class="c" style="left:313.2px;width:47.17px;background-color:#E8DF3D"><span>8</span></div>
<div class="c" style="left:360.37px;width:47.17px;background-color:#92D050"><span>10</span></div>
<div class="c" style="left:407.54px;width:47.17px"><span>3</span></div>
<div class="c" style="left:454.71px;width:47.17px;background-color:#E8DF3D"><span>14</span></div>
<div class="c" style="left:501.88px;width:47.17px"><span>7</span></div>
<div class="c" style="left:549.05px;width:47.17px"><span>7</span></div>
<div class="c" style="left:596.22px;width:47.17px"><span>6</span></div>
<div class="c" style="left:643.39px;width:47.17px;background-color:#E8DF3D"><span>11</span></div>
<div class="c" style="left:690.56px;width:47.17px"><span>9</span></div>
<div class="c" style="left:737.73px;width:47.17px"><span>9</span></div>
<div class="c" style="left:784.9px;width:47.17px"><span>5</span></div>
<div class="c" style="left:832.07px;width:45.93px"><span>6</span></div>
</div>
<div class="row" style="top:318.38px;height:34.38px">
<div class="c rk" style="left:22px;width:28.2px"><span>2</span></div>
<div class="c nm" style="left:50.2px;width:204.2px"><span>Bluelettricox</span></div>
<div class="c pt" style="left:254.4px;width:58.8px"><span>108</span></div>
<div class="c" style="left:313.2px;width:47.17px;background-color:#E8DF3D"><span>10</span></div>
<div class="c" style="left:360.37px;width:47.17px;background-color:#92D050"><span>10</span></div>
<div class="c" style="left:407.54px;width:47.17px"><span>4</span></div>
<div class="c" style="left:454.71px;width:47.17px"><span>5</span></div>
<div class="c" style="left:501.88px;width:47.17px;background-color:#00AF50"><span>22</span></div>
<div class="c" style="left:549.05px;width:47.17px"><span>5</span></div>
<div class="c" style="left:596.22px;width:47.17px"><span>6</span></div>
<div class="c" style="left:643.39px;width:47.17px"><span>6</span></div>
<div class="c" style="left:690.56px;width:47.17px"><span>6</span></div>
<div class="c" style="left:737.73px;width:47.17px"><span>6</span></div>
<div class="c" style="left:784.9px;width:47.17px"><span>8</span></div>
<div class="c" style="left:832.07px;width:45.93px"><span>7</span></div>
</div>
<div class="row" style="top:352.76px;height:34.38px">
<div class="c rk" style="left:22px;width:28.2px"><span>3</span></div>
<div class="c nm" style="left:50.2px;width:204.2px"><span>Giannibella</span></div>
<div class="c pt" style="left:254.4px;width:58.8px"><span>107</span></div>
<div class="c" style="left:313.2px;width:47.17px"><span>7</span></div>
<div class="c" style="left:360.37px;width:47.17px"><span>5</span></div>
<div class="c" style="left:407.54px;width:47.17px;background-color:#92D050"><span>10</span></div>
<div class="c" style="left:454.71px;width:47.17px;background-color:#E8DF3D"><span>11</span></div>
<div class="c" style="left:501.88px;width:47.17px;background-color:#E8DF3D"><span>10</span></div>
<div class="c" style="left:549.05px;width:47.17px;background-color:#92D050"><span>12</span></div>
<div class="c" style="left:596.22px;width:47.17px"><span>9</span></div>
<div class="c" style="left:643.39px;width:47.17px"><span>5</span></div>
<div class="c" style="left:690.56px;width:47.17px"><span>6</span></div>
<div class="c" style="left:737.73px;width:47.17px"><span>7</span></div>
<div class="c" style="left:784.9px;width:47.17px;background-color:#E8DF3D"><span>13</span></div>
<div class="c" style="left:832.07px;width:45.93px"><span>6</span></div>
</div>
<div class="row" style="top:387.14px;height:34.38px">
<div class="c rk" style="left:22px;width:28.2px"><span>4</span></div>
<div class="c nm" style="left:50.2px;width:204.2px"><span>1Claudette</span></div>
<div class="c pt" style="left:254.4px;width:58.8px"><span>106</span></div>
<div class="c" style="left:313.2px;width:47.17px"><span>4</span></div>
<div class="c" style="left:360.37px;width:47.17px"><span>5</span></div>
<div class="c" style="left:407.54px;width:47.17px"><span>1</span></div>
<div class="c" style="left:454.71px;width:47.17px;background-color:#E8DF3D"><span>11</span></div>
<div class="c" style="left:501.88px;width:47.17px"><span>8</span></div>
<div class="c" style="left:549.05px;width:47.17px"><span>10</span></div>
<div class="c" style="left:596.22px;width:47.17px"><span>6</span></div>
<div class="c" style="left:643.39px;width:47.17px"><span>6</span></div>
<div class="c" style="left:690.56px;width:47.17px"><span>7</span></div>
<div class="c" style="left:737.73px;width:47.17px"><span>6</span></div>
<div class="c" style="left:784.9px;width:47.17px;background-color:#00AF50;color:#FCD5B4"><span>19</span></div>
<div class="c" style="left:832.07px;width:45.93px"><span>5</span></div>
</div>
<div class="row" style="top:421.52px;height:34.38px">
<div class="c rk" style="left:22px;width:28.2px"><span>4</span></div>
<div class="c nm" style="left:50.2px;width:204.2px"><span>Dariotoby</span></div>
<div class="c pt" style="left:254.4px;width:58.8px"><span>106</span></div>
<div class="c" style="left:313.2px;width:47.17px"><span>2</span></div>
<div class="c" style="left:360.37px;width:47.17px"><span>8</span></div>
<div class="c" style="left:407.54px;width:47.17px"><span>4</span></div>
<div class="c" style="left:454.71px;width:47.17px;background-color:#00AF50"><span>16</span></div>
<div class="c" style="left:501.88px;width:47.17px"><span>8</span></div>
<div class="c" style="left:549.05px;width:47.17px"><span>5</span></div>
<div class="c" style="left:596.22px;width:47.17px"><span>6</span></div>
<div class="c" style="left:643.39px;width:47.17px;background-color:#00AF50;color:#FCD5B4"><span>21</span></div>
<div class="c" style="left:690.56px;width:47.17px;background-color:#E8DF3D"><span>11</span></div>
<div class="c" style="left:737.73px;width:47.17px"><span>6</span></div>
<div class="c" style="left:784.9px;width:47.17px"><span>7</span></div>
<div class="c" style="left:832.07px;width:45.93px"><span>2</span></div>
</div>
<div class="row" style="top:455.9px;height:34.38px">
<div class="c rk" style="left:22px;width:28.2px"><span>6</span></div>
<div class="c nm" style="left:50.2px;width:204.2px"><span>Pleo</span></div>
<div class="c pt" style="left:254.4px;width:58.8px"><span>101</span></div>
<div class="c" style="left:313.2px;width:47.17px"><span>8</span></div>
<div class="c" style="left:360.37px;width:47.17px"><span>4</span></div>
<div class="c" style="left:407.54px;width:47.17px"><span>4</span></div>
<div class="c" style="left:454.71px;width:47.17px;background-color:#E8DF3D"><span>11</span></div>
<div class="c" style="left:501.88px;width:47.17px"><span>8</span></div>
<div class="c" style="left:549.05px;width:47.17px;background-color:#92D050"><span>12</span></div>
<div class="c" style="left:596.22px;width:47.17px"><span>5</span></div>
<div class="c" style="left:643.39px;width:47.17px;background-color:#E8DF3D"><span>8</span></div>
<div class="c" style="left:690.56px;width:47.17px;background-color:#E8DF3D"><span>8</span></div>
<div class="c" style="left:737.73px;width:47.17px;background-color:#E8DF3D"><span>12</span></div>
<div class="c" style="left:784.9px;width:47.17px;background-color:#E8DF3D"><span>9</span></div>
<div class="c" style="left:832.07px;width:45.93px"><span>5</span></div>
</div>
<div class="row" style="top:490.28px;height:34.38px">
<div class="c rk" style="left:22px;width:28.2px"><span>7</span></div>
<div class="c nm" style="left:50.2px;width:204.2px"><span>Stefano Ledda</span></div>
<div class="c pt" style="left:254.4px;width:58.8px"><span>99</span></div>
<div class="c" style="left:313.2px;width:47.17px"><span>5</span></div>
<div class="c" style="left:360.37px;width:47.17px"><span>5</span></div>
<div class="c" style="left:407.54px;width:47.17px"><span>3</span></div>
<div class="c" style="left:454.71px;width:47.17px;background-color:#00AF50"><span>16</span></div>
<div class="c" style="left:501.88px;width:47.17px"><span>6</span></div>
<div class="c" style="left:549.05px;width:47.17px"><span>5</span></div>
<div class="c" style="left:596.22px;width:47.17px"><span>4</span></div>
<div class="c" style="left:643.39px;width:47.17px"><span>4</span></div>
<div class="c" style="left:690.56px;width:47.17px;background-color:#E8DF3D"><span>14</span></div>
<div class="c" style="left:737.73px;width:47.17px"><span>5</span></div>
<div class="c" style="left:784.9px;width:47.17px;background-color:#FAC090"><span>13</span></div>
<div class="c" style="left:832.07px;width:45.93px"><span>7</span></div>
</div>
<div class="row" style="top:524.66px;height:34.38px">
<div class="c rk" style="left:22px;width:28.2px"><span>8</span></div>
<div class="c nm" style="left:50.2px;width:204.2px"><span>Yamy07</span></div>
<div class="c pt" style="left:254.4px;width:58.8px"><span>98</span></div>
<div class="c" style="left:313.2px;width:47.17px"><span>3</span></div>
<div class="c" style="left:360.37px;width:47.17px"><span>8</span></div>
<div class="c" style="left:407.54px;width:47.17px"><span>3</span></div>
<div class="c" style="left:454.71px;width:47.17px;background-color:#E8DF3D"><span>10</span></div>
<div class="c" style="left:501.88px;width:47.17px;background-color:#E8DF3D"><span>10</span></div>
<div class="c" style="left:549.05px;width:47.17px;background-color:#92D050"><span>12</span></div>
<div class="c" style="left:596.22px;width:47.17px"><span>6</span></div>
<div class="c" style="left:643.39px;width:47.17px;background-color:#E8DF3D"><span>8</span></div>
<div class="c" style="left:690.56px;width:47.17px"><span>5</span></div>
<div class="c" style="left:737.73px;width:47.17px"><span>5</span></div>
<div class="c" style="left:784.9px;width:47.17px"><span>8</span></div>
<div class="c" style="left:832.07px;width:45.93px"><span>7</span></div>
</div>
<div class="row" style="top:559.04px;height:34.38px">
<div class="c rk" style="left:22px;width:28.2px"><span>9</span></div>
<div class="c nm" style="left:50.2px;width:204.2px"><span>Francesco60</span></div>
<div class="c pt" style="left:254.4px;width:58.8px"><span>96</span></div>
<div class="c" style="left:313.2px;width:47.17px"><span>7</span></div>
<div class="c" style="left:360.37px;width:47.17px"><span>8</span></div>
<div class="c" style="left:407.54px;width:47.17px"><span>2</span></div>
<div class="c" style="left:454.71px;width:47.17px"><span>3</span></div>
<div class="c" style="left:501.88px;width:47.17px"><span>5</span></div>
<div class="c" style="left:549.05px;width:47.17px;background-color:#92D050"><span>12</span></div>
<div class="c" style="left:596.22px;width:47.17px"><span>6</span></div>
<div class="c" style="left:643.39px;width:47.17px"><span>5</span></div>
<div class="c" style="left:690.56px;width:47.17px;background-color:#00AF50"><span>17</span></div>
<div class="c" style="left:737.73px;width:47.17px"><span>5</span></div>
<div class="c" style="left:784.9px;width:47.17px;background-color:#E8DF3D"><span>9</span></div>
<div class="c" style="left:832.07px;width:45.93px"><span>10</span></div>
</div>
<div class="row" style="top:593.42px;height:34.38px">
<div class="c rk" style="left:22px;width:28.2px"><span>9</span></div>
<div class="c nm" style="left:50.2px;width:204.2px"><span>Lalla59</span></div>
<div class="c pt" style="left:254.4px;width:58.8px"><span>96</span></div>
<div class="c" style="left:313.2px;width:47.17px;background-color:#E8DF3D"><span>13</span></div>
<div class="c" style="left:360.37px;width:47.17px"><span>5</span></div>
<div class="c" style="left:407.54px;width:47.17px"><span>2</span></div>
<div class="c" style="left:454.71px;width:47.17px;background-color:#E8DF3D"><span>14</span></div>
<div class="c" style="left:501.88px;width:47.17px"><span>7</span></div>
<div class="c" style="left:549.05px;width:47.17px;background-color:#92D050"><span>12</span></div>
<div class="c" style="left:596.22px;width:47.17px"><span>6</span></div>
<div class="c" style="left:643.39px;width:47.17px"><span>7</span></div>
<div class="c" style="left:690.56px;width:47.17px"><span>7</span></div>
<div class="c" style="left:737.73px;width:47.17px"><span>7</span></div>
<div class="c" style="left:784.9px;width:47.17px"><span>4</span></div>
<div class="c" style="left:832.07px;width:45.93px"><span>5</span></div>
</div>
<div class="row" style="top:627.8px;height:34.38px">
<div class="c rk" style="left:22px;width:28.2px"><span>9</span></div>
<div class="c nm" style="left:50.2px;width:204.2px"><span>Solidesnake</span></div>
<div class="c pt" style="left:254.4px;width:58.8px"><span>96</span></div>
<div class="c" style="left:313.2px;width:47.17px"><span>7</span></div>
<div class="c" style="left:360.37px;width:47.17px;background-color:#92D050"><span>10</span></div>
<div class="c" style="left:407.54px;width:47.17px"><span>2</span></div>
<div class="c" style="left:454.71px;width:47.17px"><span>6</span></div>
<div class="c" style="left:501.88px;width:47.17px"><span>6</span></div>
<div class="c" style="left:549.05px;width:47.17px"><span>3</span></div>
<div class="c" style="left:596.22px;width:47.17px"><span>9</span></div>
<div class="c" style="left:643.39px;width:47.17px"><span>5</span></div>
<div class="c" style="left:690.56px;width:47.17px"><span>7</span></div>
<div class="c" style="left:737.73px;width:47.17px;background-color:#00AF50;color:#FCD5B4"><span>14</span></div>
<div class="c" style="left:784.9px;width:47.17px;background-color:#E8DF3D"><span>13</span></div>
<div class="c" style="left:832.07px;width:45.93px"><span>7</span></div>
</div>
<div class="row" style="top:662.18px;height:34.38px">
<div class="c rk" style="left:22px;width:28.2px"><span>12</span></div>
<div class="c nm" style="left:50.2px;width:204.2px"><span>Crasmos1</span></div>
<div class="c pt" style="left:254.4px;width:58.8px"><span>95</span></div>
<div class="c" style="left:313.2px;width:47.17px"><span>4</span></div>
<div class="c" style="left:360.37px;width:47.17px"><span>5</span></div>
<div class="c" style="left:407.54px;width:47.17px"><span>1</span></div>
<div class="c" style="left:454.71px;width:47.17px"><span>9</span></div>
<div class="c" style="left:501.88px;width:47.17px;background-color:#E8DF3D"><span>11</span></div>
<div class="c" style="left:549.05px;width:47.17px"><span>10</span></div>
<div class="c" style="left:596.22px;width:47.17px;background-color:#92D050"><span>11</span></div>
<div class="c" style="left:643.39px;width:47.17px"><span>8</span></div>
<div class="c" style="left:690.56px;width:47.17px"><span>9</span></div>
<div class="c" style="left:737.73px;width:47.17px;background-color:#E8DF3D"><span>12</span></div>
<div class="c" style="left:784.9px;width:47.17px"><span>6</span></div>
<div class="c" style="left:832.07px;width:45.93px"><span>4</span></div>
</div>
<div class="row" style="top:696.56px;height:34.38px">
<div class="c rk" style="left:22px;width:28.2px"><span>12</span></div>
<div class="c nm" style="left:50.2px;width:204.2px"><span>Danilo1955</span></div>
<div class="c pt" style="left:254.4px;width:58.8px"><span>95</span></div>
<div class="c" style="left:313.2px;width:47.17px"><span>5</span></div>
<div class="c" style="left:360.37px;width:47.17px"><span>5</span></div>
<div class="c" style="left:407.54px;width:47.17px"><span>0</span></div>
<div class="c" style="left:454.71px;width:47.17px;background-color:#E8DF3D"><span>11</span></div>
<div class="c" style="left:501.88px;width:47.17px"><span>6</span></div>
<div class="c" style="left:549.05px;width:47.17px"><span>6</span></div>
<div class="c" style="left:596.22px;width:47.17px"><span>6</span></div>
<div class="c" style="left:643.39px;width:47.17px"><span>6</span></div>
<div class="c" style="left:690.56px;width:47.17px;background-color:#00AF50"><span>17</span></div>
<div class="c" style="left:737.73px;width:47.17px"><span>6</span></div>
<div class="c" style="left:784.9px;width:47.17px"><span>6</span></div>
<div class="c" style="left:832.07px;width:45.93px;background-color:#00AF50;color:#FCD5B4"><span>14</span></div>
</div>
<div class="row" style="top:730.94px;height:34.38px">
<div class="c rk" style="left:22px;width:28.2px"><span>12</span></div>
<div class="c nm" style="left:50.2px;width:204.2px"><span>Okrim1</span></div>
<div class="c pt" style="left:254.4px;width:58.8px"><span>95</span></div>
<div class="c" style="left:313.2px;width:47.17px"><span>9</span></div>
<div class="c" style="left:360.37px;width:47.17px"><span>5</span></div>
<div class="c" style="left:407.54px;width:47.17px"><span>5</span></div>
<div class="c" style="left:454.71px;width:47.17px"><span>5</span></div>
<div class="c" style="left:501.88px;width:47.17px"><span>4</span></div>
<div class="c" style="left:549.05px;width:47.17px"><span>10</span></div>
<div class="c" style="left:596.22px;width:47.17px"><span>6</span></div>
<div class="c" style="left:643.39px;width:47.17px"><span>0</span></div>
<div class="c" style="left:690.56px;width:47.17px"><span>6</span></div>
<div class="c" style="left:737.73px;width:47.17px;background-color:#E8DF3D"><span>12</span></div>
<div class="c" style="left:784.9px;width:47.17px;background-color:#00AF50;color:#FCD5B4"><span>21</span></div>
<div class="c" style="left:832.07px;width:45.93px"><span>6</span></div>
</div>
<div class="row" style="top:765.32px;height:34.38px">
<div class="c rk" style="left:22px;width:28.2px"><span>15</span></div>
<div class="c nm" style="left:50.2px;width:204.2px"><span>Filippo Scicolone</span></div>
<div class="c pt" style="left:254.4px;width:58.8px"><span>90</span></div>
<div class="c" style="left:313.2px;width:47.17px"><span>7</span></div>
<div class="c" style="left:360.37px;width:47.17px"><span>8</span></div>
<div class="c" style="left:407.54px;width:47.17px"><span>0</span></div>
<div class="c" style="left:454.71px;width:47.17px"><span>5</span></div>
<div class="c" style="left:501.88px;width:47.17px;background-color:#00AF50;color:#FCD5B4"><span>19</span></div>
<div class="c" style="left:549.05px;width:47.17px"><span>6</span></div>
<div class="c" style="left:596.22px;width:47.17px"><span>9</span></div>
<div class="c" style="left:643.39px;width:47.17px"><span>4</span></div>
<div class="c" style="left:690.56px;width:47.17px"><span>6</span></div>
<div class="c" style="left:737.73px;width:47.17px"><span>6</span></div>
<div class="c" style="left:784.9px;width:47.17px"><span>5</span></div>
<div class="c" style="left:832.07px;width:45.93px"><span>5</span></div>
</div>
<div class="row" style="top:799.7px;height:34.38px">
<div class="c rk" style="left:22px;width:28.2px"><span>15</span></div>
<div class="c nm" style="left:50.2px;width:204.2px"><span>Tex500</span></div>
<div class="c pt" style="left:254.4px;width:58.8px"><span>90</span></div>
<div class="c" style="left:313.2px;width:47.17px"><span>3</span></div>
<div class="c" style="left:360.37px;width:47.17px;background-color:#92D050"><span>10</span></div>
<div class="c" style="left:407.54px;width:47.17px"><span>3</span></div>
<div class="c" style="left:454.71px;width:47.17px"><span>7</span></div>
<div class="c" style="left:501.88px;width:47.17px"><span>7</span></div>
<div class="c" style="left:549.05px;width:47.17px"><span>3</span></div>
<div class="c" style="left:596.22px;width:47.17px"><span>9</span></div>
<div class="c" style="left:643.39px;width:47.17px;background-color:#E8DF3D"><span>11</span></div>
<div class="c" style="left:690.56px;width:47.17px"><span>8</span></div>
<div class="c" style="left:737.73px;width:47.17px"><span>6</span></div>
<div class="c" style="left:784.9px;width:47.17px"><span>8</span></div>
<div class="c" style="left:832.07px;width:45.93px"><span>6</span></div>
</div>
<div class="row" style="top:834.08px;height:34.38px">
<div class="c rk" style="left:22px;width:28.2px"><span>17</span></div>
<div class="c nm" style="left:50.2px;width:204.2px"><span>Pinodesa</span></div>
<div class="c pt" style="left:254.4px;width:58.8px"><span>89</span></div>
<div class="c" style="left:313.2px;width:47.17px"><span>4</span></div>
<div class="c" style="left:360.37px;width:47.17px"><span>5</span></div>
<div class="c" style="left:407.54px;width:47.17px"><span>2</span></div>
<div class="c" style="left:454.71px;width:47.17px;background-color:#E8DF3D"><span>10</span></div>
<div class="c" style="left:501.88px;width:47.17px"><span>8</span></div>
<div class="c" style="left:549.05px;width:47.17px"><span>5</span></div>
<div class="c" style="left:596.22px;width:47.17px"><span>6</span></div>
<div class="c" style="left:643.39px;width:47.17px"><span>3</span></div>
<div class="c" style="left:690.56px;width:47.17px"><span>6</span></div>
<div class="c" style="left:737.73px;width:47.17px;background-color:#E8DF3D"><span>12</span></div>
<div class="c" style="left:784.9px;width:47.17px;background-color:#E8DF3D"><span>11</span></div>
<div class="c" style="left:832.07px;width:45.93px"><span>3</span></div>
</div>
<div class="row" style="top:868.46px;height:34.38px">
<div class="c rk" style="left:22px;width:28.2px"><span>18</span></div>
<div class="c nm" style="left:50.2px;width:204.2px"><span>Occhiverdi73</span></div>
<div class="c pt" style="left:254.4px;width:58.8px"><span>88</span></div>
<div class="c" style="left:313.2px;width:47.17px"><span>7</span></div>
<div class="c" style="left:360.37px;width:47.17px"><span>4</span></div>
<div class="c" style="left:407.54px;width:47.17px"><span>3</span></div>
<div class="c" style="left:454.71px;width:47.17px;background-color:#E8DF3D"><span>11</span></div>
<div class="c" style="left:501.88px;width:47.17px"><span>3</span></div>
<div class="c" style="left:549.05px;width:47.17px"><span>7</span></div>
<div class="c" style="left:596.22px;width:47.17px"><span>5</span></div>
<div class="c" style="left:643.39px;width:47.17px"><span>5</span></div>
<div class="c" style="left:690.56px;width:47.17px"><span>6</span></div>
<div class="c" style="left:737.73px;width:47.17px"><span>3</span></div>
<div class="c" style="left:784.9px;width:47.17px;background-color:#E8DF3D"><span>12</span></div>
<div class="c" style="left:832.07px;width:45.93px"><span>4</span></div>
</div>
<div class="row" style="top:902.84px;height:34.38px">
<div class="c rk" style="left:22px;width:28.2px"><span>19</span></div>
<div class="c nm" style="left:50.2px;width:204.2px"><span>Gaspare70</span></div>
<div class="c pt" style="left:254.4px;width:58.8px"><span>87</span></div>
<div class="c" style="left:313.2px;width:47.17px;background-color:#92D050;color:#FFC000"><span>15</span></div>
<div class="c" style="left:360.37px;width:47.17px;background-color:#92D050"><span>10</span></div>
<div class="c" style="left:407.54px;width:47.17px"><span>3</span></div>
<div class="c" style="left:454.71px;width:47.17px"><span>4</span></div>
<div class="c" style="left:501.88px;width:47.17px"><span>3</span></div>
<div class="c" style="left:549.05px;width:47.17px"><span>10</span></div>
<div class="c" style="left:596.22px;width:47.17px"><span>4</span></div>
<div class="c" style="left:643.39px;width:47.17px"><span>6</span></div>
<div class="c" style="left:690.56px;width:47.17px;background-color:#E8DF3D"><span>9</span></div>
<div class="c" style="left:737.73px;width:47.17px"><span>4</span></div>
<div class="c" style="left:784.9px;width:47.17px;background-color:#E8DF3D"><span>11</span></div>
<div class="c" style="left:832.07px;width:45.93px"><span>0</span></div>
</div>
<div class="row" style="top:937.22px;height:34.38px">
<div class="c rk" style="left:22px;width:28.2px"><span>20</span></div>
<div class="c nm" style="left:50.2px;width:204.2px"><span>Kerra1</span></div>
<div class="c pt" style="left:254.4px;width:58.8px"><span>86</span></div>
<div class="c" style="left:313.2px;width:47.17px"><span>4</span></div>
<div class="c" style="left:360.37px;width:47.17px"><span>5</span></div>
<div class="c" style="left:407.54px;width:47.17px"><span>2</span></div>
<div class="c" style="left:454.71px;width:47.17px;background-color:#00AF50"><span>16</span></div>
<div class="c" style="left:501.88px;width:47.17px"><span>7</span></div>
<div class="c" style="left:549.05px;width:47.17px;background-color:#92D050"><span>12</span></div>
<div class="c" style="left:596.22px;width:47.17px"><span>5</span></div>
<div class="c" style="left:643.39px;width:47.17px"><span>5</span></div>
<div class="c" style="left:690.56px;width:47.17px"><span>6</span></div>
<div class="c" style="left:737.73px;width:47.17px"><span>6</span></div>
<div class="c" style="left:784.9px;width:47.17px"><span>6</span></div>
<div class="c" style="left:832.07px;width:45.93px"><span>7</span></div>
</div>
<div class="row" style="top:971.6px;height:34.38px">
<div class="c rk" style="left:22px;width:28.2px"><span>20</span></div>
<div class="c nm" style="left:50.2px;width:204.2px"><span>Robotics</span></div>
<div class="c pt" style="left:254.4px;width:58.8px"><span>86</span></div>
<div class="c" style="left:313.2px;width:47.17px"><span>3</span></div>
<div class="c" style="left:360.37px;width:47.17px"><span>8</span></div>
<div class="c" style="left:407.54px;width:47.17px"><span>2</span></div>
<div class="c" style="left:454.71px;width:47.17px;background-color:#E8DF3D"><span>10</span></div>
<div class="c" style="left:501.88px;width:47.17px;background-color:#E8DF3D"><span>10</span></div>
<div class="c" style="left:549.05px;width:47.17px"><span>6</span></div>
<div class="c" style="left:596.22px;width:47.17px"><span>9</span></div>
<div class="c" style="left:643.39px;width:47.17px"><span>5</span></div>
<div class="c" style="left:690.56px;width:47.17px"><span>6</span></div>
<div class="c" style="left:737.73px;width:47.17px"><span>8</span></div>
<div class="c" style="left:784.9px;width:47.17px"><span>8</span></div>
<div class="c" style="left:832.07px;width:45.93px"><span>4</span></div>
</div>
<div class="row" style="top:1005.98px;height:34.38px">
<div class="c rk" style="left:22px;width:28.2px"><span>22</span></div>
<div class="c nm" style="left:50.2px;width:204.2px"><span>Sdamico46</span></div>
<div class="c pt" style="left:254.4px;width:58.8px"><span>84</span></div>
<div class="c" style="left:313.2px;width:47.17px"><span>6</span></div>
<div class="c" style="left:360.37px;width:47.17px"><span>5</span></div>
<div class="c" style="left:407.54px;width:47.17px"><span>2</span></div>
<div class="c" style="left:454.71px;width:47.17px"><span>6</span></div>
<div class="c" style="left:501.88px;width:47.17px"><span>8</span></div>
<div class="c" style="left:549.05px;width:47.17px;background-color:#92D050"><span>12</span></div>
<div class="c" style="left:596.22px;width:47.17px"><span>6</span></div>
<div class="c" style="left:643.39px;width:47.17px"><span>3</span></div>
<div class="c" style="left:690.56px;width:47.17px"><span>9</span></div>
<div class="c" style="left:737.73px;width:47.17px"><span>5</span></div>
<div class="c" style="left:784.9px;width:47.17px"><span>5</span></div>
<div class="c" style="left:832.07px;width:45.93px"><span>6</span></div>
</div>
<div class="row" style="top:1040.36px;height:34.38px">
<div class="c rk" style="left:22px;width:28.2px"><span>23</span></div>
<div class="c nm" style="left:50.2px;width:204.2px"><span>Valentia</span></div>
<div class="c pt" style="left:254.4px;width:58.8px"><span>81</span></div>
<div class="c" style="left:313.2px;width:47.17px"><span>8</span></div>
<div class="c" style="left:360.37px;width:47.17px"><span>8</span></div>
<div class="c" style="left:407.54px;width:47.17px"><span>8</span></div>
<div class="c" style="left:454.71px;width:47.17px;background-color:#E8DF3D"><span>8</span></div>
<div class="c" style="left:501.88px;width:47.17px"><span>5</span></div>
<div class="c" style="left:549.05px;width:47.17px"><span>5</span></div>
<div class="c" style="left:596.22px;width:47.17px"><span>6</span></div>
<div class="c" style="left:643.39px;width:47.17px"><span>0</span></div>
<div class="c" style="left:690.56px;width:47.17px"><span>7</span></div>
<div class="c" style="left:737.73px;width:47.17px;background-color:#E8DF3D"><span>7</span></div>
<div class="c" style="left:784.9px;width:47.17px"><span>6</span></div>
<div class="c" style="left:832.07px;width:45.93px"><span>0</span></div>
</div>
<div class="row" style="top:1074.74px;height:34.38px">
<div class="c rk" style="left:22px;width:28.2px"><span>24</span></div>
<div class="c nm" style="left:50.2px;width:204.2px"><span>Qda</span></div>
<div class="c pt" style="left:254.4px;width:58.8px"><span>79</span></div>
<div class="c" style="left:313.2px;width:47.17px"><span>5</span></div>
<div class="c" style="left:360.37px;width:47.17px"><span>5</span></div>
<div class="c" style="left:407.54px;width:47.17px"><span>8</span></div>
<div class="c" style="left:454.71px;width:47.17px"><span>7</span></div>
<div class="c" style="left:501.88px;width:47.17px"><span>7</span></div>
<div class="c" style="left:549.05px;width:47.17px"><span>7</span></div>
<div class="c" style="left:596.22px;width:47.17px"><span>5</span></div>
<div class="c" style="left:643.39px;width:47.17px"><span>6</span></div>
<div class="c" style="left:690.56px;width:47.17px"><span>7</span></div>
<div class="c" style="left:737.73px;width:47.17px;background-color:#E8DF3D"><span>7</span></div>
<div class="c" style="left:784.9px;width:47.17px"><span>4</span></div>
<div class="c" style="left:832.07px;width:45.93px"><span>4</span></div>
</div>
<div class="row" style="top:1109.12px;height:34.38px">
<div class="c rk" style="left:22px;width:28.2px"><span>25</span></div>
<div class="c nm" style="left:50.2px;width:204.2px"><span>Cirotto67</span></div>
<div class="c pt" style="left:254.4px;width:58.8px"><span>76</span></div>
<div class="c" style="left:313.2px;width:47.17px"><span>5</span></div>
<div class="c" style="left:360.37px;width:47.17px"><span>4</span></div>
<div class="c" style="left:407.54px;width:47.17px"><span>3</span></div>
<div class="c" style="left:454.71px;width:47.17px"><span>5</span></div>
<div class="c" style="left:501.88px;width:47.17px"><span>5</span></div>
<div class="c" style="left:549.05px;width:47.17px"><span>6</span></div>
<div class="c" style="left:596.22px;width:47.17px"><span>6</span></div>
<div class="c" style="left:643.39px;width:47.17px"><span>4</span></div>
<div class="c" style="left:690.56px;width:47.17px"><span>4</span></div>
<div class="c" style="left:737.73px;width:47.17px;background-color:#E8DF3D"><span>12</span></div>
<div class="c" style="left:784.9px;width:47.17px;background-color:#E8DF3D"><span>9</span></div>
<div class="c" style="left:832.07px;width:45.93px"><span>6</span></div>
</div>
<div class="row" style="top:1143.5px;height:34.38px">
<div class="c rk" style="left:22px;width:28.2px"><span>26</span></div>
<div class="c nm" style="left:50.2px;width:204.2px"><span>Maury74</span></div>
<div class="c pt" style="left:254.4px;width:58.8px"><span>75</span></div>
<div class="c" style="left:313.2px;width:47.17px"><span>2</span></div>
<div class="c" style="left:360.37px;width:47.17px"><span>4</span></div>
<div class="c" style="left:407.54px;width:47.17px"><span>2</span></div>
<div class="c" style="left:454.71px;width:47.17px;background-color:#E8DF3D"><span>11</span></div>
<div class="c" style="left:501.88px;width:47.17px"><span>4</span></div>
<div class="c" style="left:549.05px;width:47.17px"><span>3</span></div>
<div class="c" style="left:596.22px;width:47.17px"><span>5</span></div>
<div class="c" style="left:643.39px;width:47.17px"><span>6</span></div>
<div class="c" style="left:690.56px;width:47.17px"><span>7</span></div>
<div class="c" style="left:737.73px;width:47.17px"><span>7</span></div>
<div class="c" style="left:784.9px;width:47.17px"><span>5</span></div>
<div class="c" style="left:832.07px;width:45.93px;background-color:#E8DF3D"><span>7</span></div>
</div>
<div class="row" style="top:1177.88px;height:34.38px">
<div class="c rk" style="left:22px;width:28.2px"><span>27</span></div>
<div class="c nm" style="left:50.2px;width:204.2px"><span>Dariomerc</span></div>
<div class="c pt" style="left:254.4px;width:58.8px"><span>74</span></div>
<div class="c" style="left:313.2px;width:47.17px"><span>5</span></div>
<div class="c" style="left:360.37px;width:47.17px"><span>4</span></div>
<div class="c" style="left:407.54px;width:47.17px"><span>0</span></div>
<div class="c" style="left:454.71px;width:47.17px"><span>6</span></div>
<div class="c" style="left:501.88px;width:47.17px"><span>6</span></div>
<div class="c" style="left:549.05px;width:47.17px"><span>10</span></div>
<div class="c" style="left:596.22px;width:47.17px"><span>6</span></div>
<div class="c" style="left:643.39px;width:47.17px"><span>5</span></div>
<div class="c" style="left:690.56px;width:47.17px"><span>5</span></div>
<div class="c" style="left:737.73px;width:47.17px"><span>4</span></div>
<div class="c" style="left:784.9px;width:47.17px"><span>7</span></div>
<div class="c" style="left:832.07px;width:45.93px"><span>7</span></div>
</div>
<div class="row" style="top:1212.26px;height:34.38px">
<div class="c rk" style="left:22px;width:28.2px"><span>28</span></div>
<div class="c nm" style="left:50.2px;width:204.2px"><span>Bluesky</span></div>
<div class="c pt" style="left:254.4px;width:58.8px"><span>68</span></div>
<div class="c" style="left:313.2px;width:47.17px"><span>3</span></div>
<div class="c" style="left:360.37px;width:47.17px"><span>0</span></div>
<div class="c" style="left:407.54px;width:47.17px"><span>3</span></div>
<div class="c" style="left:454.71px;width:47.17px"><span>6</span></div>
<div class="c" style="left:501.88px;width:47.17px"><span>5</span></div>
<div class="c" style="left:549.05px;width:47.17px"><span>7</span></div>
<div class="c" style="left:596.22px;width:47.17px"><span>9</span></div>
<div class="c" style="left:643.39px;width:47.17px"><span>6</span></div>
<div class="c" style="left:690.56px;width:47.17px"><span>3</span></div>
<div class="c" style="left:737.73px;width:47.17px"><span>3</span></div>
<div class="c" style="left:784.9px;width:47.17px"><span>0</span></div>
<div class="c" style="left:832.07px;width:45.93px"><span>7</span></div>
</div>
<div class="row" style="top:1246.64px;height:34.38px">
<div class="c rk" style="left:22px;width:28.2px"><span>29</span></div>
<div class="c nm" style="left:50.2px;width:204.2px"><span>Dangipis</span></div>
<div class="c pt" style="left:254.4px;width:58.8px"><span>66</span></div>
<div class="c" style="left:313.2px;width:47.17px"><span>7</span></div>
<div class="c" style="left:360.37px;width:47.17px;background-color:#92D050"><span>10</span></div>
<div class="c" style="left:407.54px;width:47.17px"><span>1</span></div>
<div class="c" style="left:454.71px;width:47.17px"><span>5</span></div>
<div class="c" style="left:501.88px;width:47.17px"><span>6</span></div>
<div class="c" style="left:549.05px;width:47.17px"><span>4</span></div>
<div class="c" style="left:596.22px;width:47.17px"><span>5</span></div>
<div class="c" style="left:643.39px;width:47.17px"><span>7</span></div>
<div class="c" style="left:690.56px;width:47.17px"><span>2</span></div>
<div class="c" style="left:737.73px;width:47.17px"><span>2</span></div>
<div class="c" style="left:784.9px;width:47.17px"><span>7</span></div>
<div class="c" style="left:832.07px;width:45.93px"><span>3</span></div>
</div>
<div class="row" style="top:1281.02px;height:34.38px">
<div class="c rk" style="left:22px;width:28.2px"><span>30</span></div>
<div class="c nm" style="left:50.2px;width:204.2px"><span>Pinomusic</span></div>
<div class="c pt" style="left:254.4px;width:58.8px"><span>65</span></div>
<div class="c" style="left:313.2px;width:47.17px"><span>5</span></div>
<div class="c" style="left:360.37px;width:47.17px"><span>5</span></div>
<div class="c" style="left:407.54px;width:47.17px"><span>0</span></div>
<div class="c" style="left:454.71px;width:47.17px"><span>7</span></div>
<div class="c" style="left:501.88px;width:47.17px"><span>7</span></div>
<div class="c" style="left:549.05px;width:47.17px"><span>7</span></div>
<div class="c" style="left:596.22px;width:47.17px"><span>4</span></div>
<div class="c" style="left:643.39px;width:47.17px"><span>4</span></div>
<div class="c" style="left:690.56px;width:47.17px"><span>5</span></div>
<div class="c" style="left:737.73px;width:47.17px"><span>6</span></div>
<div class="c" style="left:784.9px;width:47.17px"><span>7</span></div>
<div class="c" style="left:832.07px;width:45.93px"><span>0</span></div>
</div>
<div class="row" style="top:1315.4px;height:34.38px">
<div class="c rk" style="left:22px;width:28.2px"><span>31</span></div>
<div class="c nm" style="left:50.2px;width:204.2px"><span>Eli de gli occhi blu</span></div>
<div class="c pt" style="left:254.4px;width:58.8px"><span>64</span></div>
<div class="c" style="left:313.2px;width:47.17px"><span>6</span></div>
<div class="c" style="left:360.37px;width:47.17px"><span>3</span></div>
<div class="c" style="left:407.54px;width:47.17px"><span>5</span></div>
<div class="c" style="left:454.71px;width:47.17px"><span>7</span></div>
<div class="c" style="left:501.88px;width:47.17px"><span>6</span></div>
<div class="c" style="left:549.05px;width:47.17px"><span>2</span></div>
<div class="c" style="left:596.22px;width:47.17px"><span>2</span></div>
<div class="c" style="left:643.39px;width:47.17px"><span>2</span></div>
<div class="c" style="left:690.56px;width:47.17px"><span>5</span></div>
<div class="c" style="left:737.73px;width:47.17px"><span>2</span></div>
<div class="c" style="left:784.9px;width:47.17px"><span>8</span></div>
<div class="c" style="left:832.07px;width:45.93px"><span>3</span></div>
</div>
<div class="row" style="top:1349.78px;height:34.38px">
<div class="c rk" style="left:22px;width:28.2px"><span>32</span></div>
<div class="c nm" style="left:50.2px;width:204.2px"><span>Martina Buselli</span></div>
<div class="c pt" style="left:254.4px;width:58.8px"><span>62</span></div>
<div class="c" style="left:313.2px;width:47.17px"><span>0</span></div>
<div class="c" style="left:360.37px;width:47.17px"><span>5</span></div>
<div class="c" style="left:407.54px;width:47.17px"><span>0</span></div>
<div class="c" style="left:454.71px;width:47.17px"><span>4</span></div>
<div class="c" style="left:501.88px;width:47.17px;background-color:#E8DF3D"><span>7</span></div>
<div class="c" style="left:549.05px;width:47.17px"><span>3</span></div>
<div class="c" style="left:596.22px;width:47.17px"><span>3</span></div>
<div class="c" style="left:643.39px;width:47.17px"><span>0</span></div>
<div class="c" style="left:690.56px;width:47.17px"><span>7</span></div>
<div class="c" style="left:737.73px;width:47.17px"><span>8</span></div>
<div class="c" style="left:784.9px;width:47.17px"><span>0</span></div>
<div class="c" style="left:832.07px;width:45.93px"><span>6</span></div>
</div>
<div class="row" style="top:1384.16px;height:34.38px">
<div class="c rk" style="left:22px;width:28.2px"><span>32</span></div>
<div class="c nm" style="left:50.2px;width:204.2px"><span>Vincenzo 2018</span></div>
<div class="c pt" style="left:254.4px;width:58.8px"><span>62</span></div>
<div class="c" style="left:313.2px;width:47.17px"><span>4</span></div>
<div class="c" style="left:360.37px;width:47.17px"><span>3</span></div>
<div class="c" style="left:407.54px;width:47.17px"><span>5</span></div>
<div class="c" style="left:454.71px;width:47.17px"><span>7</span></div>
<div class="c" style="left:501.88px;width:47.17px"><span>5</span></div>
<div class="c" style="left:549.05px;width:47.17px"><span>6</span></div>
<div class="c" style="left:596.22px;width:47.17px"><span>0</span></div>
<div class="c" style="left:643.39px;width:47.17px"><span>3</span></div>
<div class="c" style="left:690.56px;width:47.17px"><span>9</span></div>
<div class="c" style="left:737.73px;width:47.17px"><span>8</span></div>
<div class="c" style="left:784.9px;width:47.17px"><span>0</span></div>
<div class="c" style="left:832.07px;width:45.93px"><span>6</span></div>
</div>
<div class="row red" style="top:1418.54px;height:34.38px">
<div class="c rk" style="left:22px;width:28.2px"><span>34</span></div>
<div class="c nm" style="left:50.2px;width:204.2px"><span>Rosario 60</span></div>
<div class="c pt" style="left:254.4px;width:58.8px"><span>49</span></div>
<div class="c" style="left:313.2px;width:47.17px"><span>6</span></div>
<div class="c" style="left:360.37px;width:47.17px"><span>5</span></div>
<div class="c" style="left:407.54px;width:47.17px"><span>2</span></div>
<div class="c" style="left:454.71px;width:47.17px"><span>4</span></div>
<div class="c" style="left:501.88px;width:47.17px;background-color:#00AF50"><span>14</span></div>
<div class="c" style="left:549.05px;width:47.17px"><span>3</span></div>
<div class="c" style="left:596.22px;width:47.17px"><span>0</span></div>
<div class="c" style="left:643.39px;width:47.17px"><span>0</span></div>
<div class="c" style="left:690.56px;width:47.17px"><span>0</span></div>
<div class="c" style="left:737.73px;width:47.17px"><span>0</span></div>
<div class="c" style="left:784.9px;width:47.17px"><span>0</span></div>
<div class="c" style="left:832.07px;width:45.93px"><span>0</span></div>
</div>
<div class="row red" style="top:1452.92px;height:33.08px">
<div class="c rk" style="left:22px;width:28.2px"><span>35</span></div>
<div class="c nm" style="left:50.2px;width:204.2px"><span>Lovpier</span></div>
<div class="c pt" style="left:254.4px;width:58.8px"><span>48</span></div>
<div class="c" style="left:313.2px;width:47.17px"><span>4</span></div>
<div class="c" style="left:360.37px;width:47.17px"><span>8</span></div>
<div class="c" style="left:407.54px;width:47.17px"><span>2</span></div>
<div class="c" style="left:454.71px;width:47.17px;background-color:#E8DF3D"><span>9</span></div>
<div class="c" style="left:501.88px;width:47.17px"><span>4</span></div>
<div class="c" style="left:549.05px;width:47.17px"><span>10</span></div>
<div class="c" style="left:596.22px;width:47.17px"><span>5</span></div>
<div class="c" style="left:643.39px;width:47.17px"><span>0</span></div>
<div class="c" style="left:690.56px;width:47.17px"><span>0</span></div>
<div class="c" style="left:737.73px;width:47.17px"><span>0</span></div>
<div class="c" style="left:784.9px;width:47.17px"><span>0</span></div>
<div class="c" style="left:832.07px;width:45.93px"><span>0</span></div>
</div>
<svg id="grid" width="898" height="1512" viewBox="0 0 898 1512" style="position:absolute;left:0;top:0">
<path d="M22 318.38H878M22 352.76H878M22 387.14H878M22 421.52H878M22 455.9H878M22 490.28H878M22 524.66H878M22 559.04H878M22 593.42H878M22 627.8H878M22 662.18H878M22 696.56H878M22 730.94H878M22 765.32H878M22 799.7H878M22 834.08H878M22 868.46H878M22 902.84H878M22 937.22H878M22 971.6H878M22 1005.98H878M22 1040.36H878M22 1074.74H878M22 1109.12H878M22 1143.5H878M22 1177.88H878M22 1212.26H878M22 1246.64H878M22 1281.02H878M22 1315.4H878M22 1349.78H878M22 1384.16H878M22 1418.54H878M22 1452.92H878" stroke="#1c1c1c" stroke-width="1" fill="none"/>
<path d="M360.37 258.7V1486M407.54 258.7V1486M454.71 258.7V1486M501.88 258.7V1486M549.05 258.7V1486M596.22 258.7V1486M643.39 258.7V1486M690.56 258.7V1486M737.73 258.7V1486M784.9 258.7V1486M832.07 258.7V1486" stroke="#1c1c1c" stroke-width="1" fill="none"/>
<path d="M50.2 318.38H254.4M50.2 352.76H254.4M50.2 387.14H254.4M50.2 421.52H254.4M50.2 455.9H254.4M50.2 490.28H254.4M50.2 524.66H254.4M50.2 559.04H254.4M50.2 593.42H254.4M50.2 627.8H254.4M50.2 662.18H254.4M50.2 696.56H254.4M50.2 730.94H254.4M50.2 765.32H254.4M50.2 799.7H254.4M50.2 834.08H254.4M50.2 868.46H254.4M50.2 902.84H254.4M50.2 937.22H254.4M50.2 971.6H254.4M50.2 1005.98H254.4M50.2 1040.36H254.4M50.2 1074.74H254.4M50.2 1109.12H254.4M50.2 1143.5H254.4M50.2 1177.88H254.4M50.2 1212.26H254.4M50.2 1246.64H254.4M50.2 1281.02H254.4M50.2 1315.4H254.4M50.2 1349.78H254.4M50.2 1384.16H254.4M50.2 1418.54H254.4M50.2 1452.92H254.4M22 284H878" stroke="#000" stroke-width="1.5" fill="none"/>
<path d="M50.2 258.7V1486M254.4 258.7V1486M313.2 258.7V1486" stroke="#000" stroke-width="1.5" fill="none"/>
</svg>
</div>
</div>
</body>
</html>
